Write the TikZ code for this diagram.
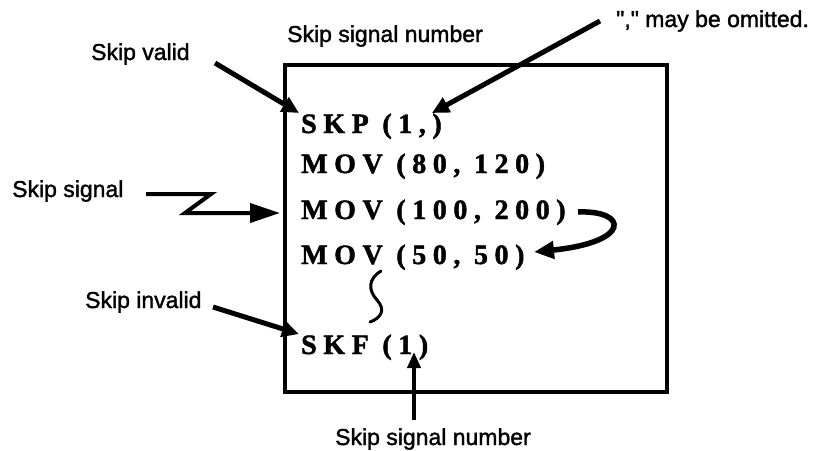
\documentclass[tikz,border=0pt]{standalone}
\usepackage{fontspec}
\setmainfont{Liberation Sans}
\newfontfamily\labelfont[FakeBold=1.5]{Liberation Sans}
\newfontfamily\codefont[FakeBold=1.6,LetterSpace=23.5]{Liberation Serif Bold}
\usetikzlibrary{arrows.meta}
\begin{document}
\begin{tikzpicture}[x=1pt,y=-1pt,
  label/.style={anchor=base west,inner sep=0pt,font=\labelfont\fontsize{23}{25}\selectfont},
  code/.style={anchor=base west,inner sep=0pt,font=\codefont\fontsize{28}{30}\selectfont},
  pointer/.style={line width=5pt,-{Triangle[length=17pt,width=16pt]}},
  frame/.style={line width=3.8pt}]
\useasboundingbox (0,0) rectangle (814,450);
\fill[white] (0,0) rectangle (814,450);

% program listing frame
\draw[frame] (285,65) rectangle (667,392);

% program lines
\node[code] (skp)  at (301,133) {SKP (1,)};
\node[code] (mov1) at (301,173) {MOV (80, 120)};
\node[code] (mov2) at (301,219) {MOV (100, 200)};
\node[code] (mov3) at (301,264) {MOV (50, 50)};
\node[code] (skf)  at (301,354) {SKF (1)};

% omitted lines
\draw[line width=3pt,line cap=round] (381,271) .. controls (368,279) and (368,290) .. (377,300)
  .. controls (386,310) and (381,318) .. (370,322);

% labels
\node[label] (lvalid)   at (91,60)  {Skip valid};
\node[label] (lnumtop)  at (287,42) {Skip signal number};
\node[label] (lomit)    at (616,27) {"," may be omitted.};
\node[label] (lsignal)  at (12,197) {Skip signal};
\node[label] (linvalid) at (85,308) {Skip invalid};
\node[label] (lnumbot)  at (335,445) {Skip signal number};

% pointers
\coordinate (v0) at (215,63);   \coordinate (v1) at (299,113);
\coordinate (c0) at (600,21);   \coordinate (c1) at (432,113);
\coordinate (i0) at (213,307);  \coordinate (i1) at (299,334);
\coordinate (n0) at (414,420);  \coordinate (n1) at (414,352);
\draw[pointer] (v0) -- (v1);
\draw[pointer] (c0) -- (c1);
\draw[pointer] (i0) -- (i1);
\draw[line width=3.8pt,-{Triangle[length=16pt,width=13pt]}] (n0) -- (n1);

% skip signal (zigzag)
\coordinate (s0) at (146,194);
\coordinate (s1) at (211,194);
\coordinate (s2) at (185,213);
\coordinate (s3) at (280,213);
\draw[line width=4pt,line join=miter,-{Triangle[length=30pt,width=19pt]}] (s0) -- (s1) -- (s2) -- (s3);

% jump from MOV (100, 200) to MOV (50, 50)
\coordinate (j0) at (578,212);
\coordinate (j1) at (534,252);
\draw[line width=5.5pt,-{Triangle[length=20pt,width=17pt]}] (j0) .. controls (628,210) and (632,242) .. (j1);
\end{tikzpicture}
\end{document}
